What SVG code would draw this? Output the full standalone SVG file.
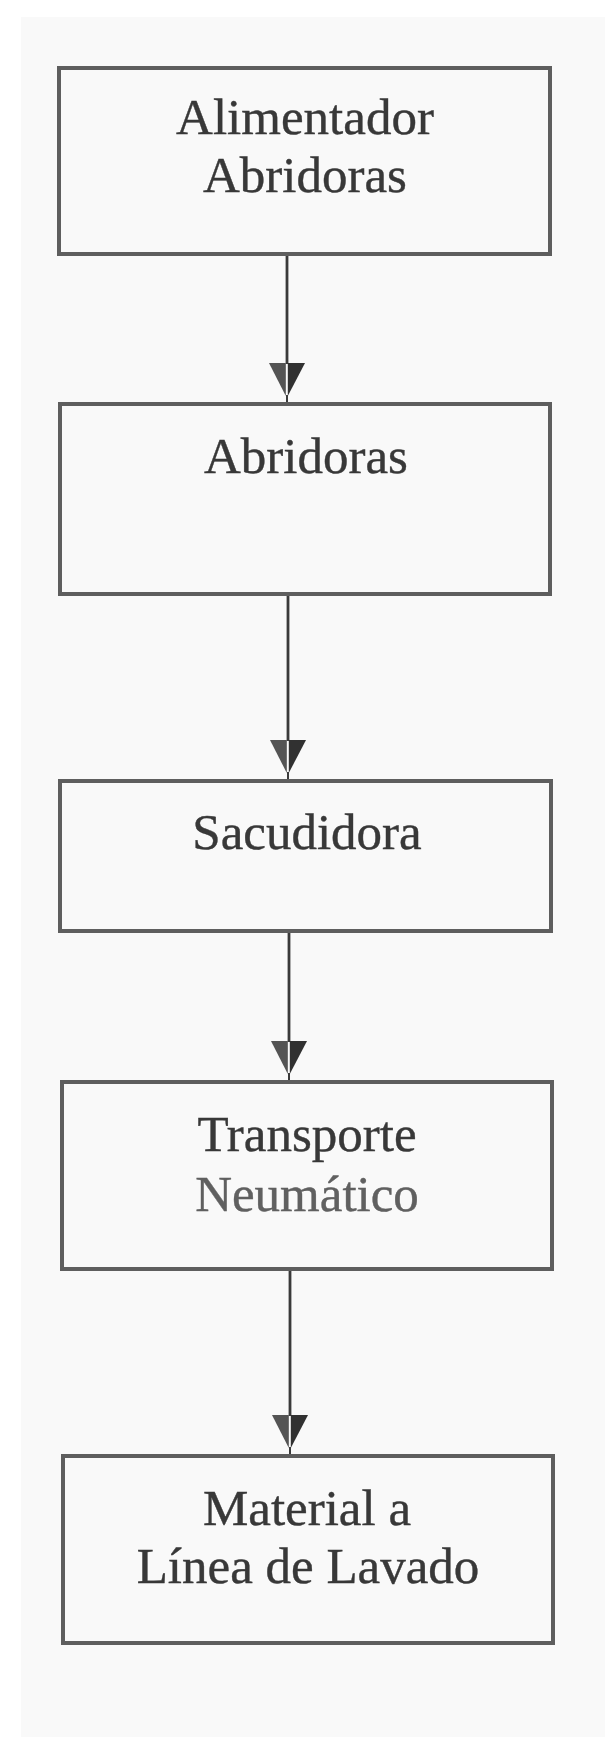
<svg xmlns="http://www.w3.org/2000/svg" width="605" height="1737" viewBox="0 0 605 1737">
  <style>
    .box { fill: none; stroke: #5e5e5e; stroke-width: 4; }
    .lbl { font-family: "Liberation Serif", "Times New Roman", serif; font-size: 51px; fill: #383838; stroke: #383838; stroke-width: 0.4; text-anchor: middle; }
    .lbl.soft { fill: #606060; stroke: #606060; }
    .shaft { stroke: #3a3a3a; stroke-width: 2.8; fill: none; }
    .headL { fill: #545454; }
    .headR { fill: #313131; }
  </style>
  <defs>
    <!-- arrowhead drawn with its apex at (0,0), pointing down -->
    <g id="head">
      <polygon class="headL" points="-18,-41 -1.2,-41 -1.2,-8"/>
      <polygon class="headR" points="0.8,-41 18,-41 0.8,-8"/>
      <line x1="0" y1="-9" x2="0" y2="0" stroke="#3a3a3a" stroke-width="2"/>
    </g>
  </defs>

  <!-- page -->
  <rect x="0" y="0" width="605" height="1737" fill="#ffffff"/>
  <rect x="21" y="17" width="584" height="1720" fill="#f9f9f9"/>

  <!-- connectors -->
  <g id="connectors">
    <line class="shaft" x1="287" y1="256" x2="287" y2="364"/>
    <use href="#head" x="287" y="404"/>
    <line class="shaft" x1="288" y1="596" x2="288" y2="741"/>
    <use href="#head" x="288" y="781"/>
    <line class="shaft" x1="289" y1="933" x2="289" y2="1042"/>
    <use href="#head" x="289" y="1082"/>
    <line class="shaft" x1="290" y1="1271" x2="290" y2="1416"/>
    <use href="#head" x="290" y="1456"/>
  </g>

  <!-- nodes -->
  <g id="alimentador">
    <rect class="box" x="59" y="68" width="491" height="186"/>
    <text class="lbl" x="305" y="134">Alimentador</text>
    <text class="lbl" x="305" y="192">Abridoras</text>
  </g>
  <g id="abridoras">
    <rect class="box" x="60" y="404" width="490" height="190"/>
    <text class="lbl" x="306" y="473">Abridoras</text>
  </g>
  <g id="sacudidora">
    <rect class="box" x="60" y="781" width="491" height="150"/>
    <text class="lbl" x="307" y="849">Sacudidora</text>
  </g>
  <g id="transporte">
    <rect class="box" x="62" y="1082" width="490" height="187"/>
    <text class="lbl" x="307" y="1151">Transporte</text>
    <text class="lbl soft" x="307" y="1211">Neumático</text>
  </g>
  <g id="material">
    <rect class="box" x="63" y="1456" width="490" height="187"/>
    <text class="lbl" x="307" y="1525">Material a</text>
    <text class="lbl" x="308" y="1583">Línea de Lavado</text>
  </g>
</svg>
